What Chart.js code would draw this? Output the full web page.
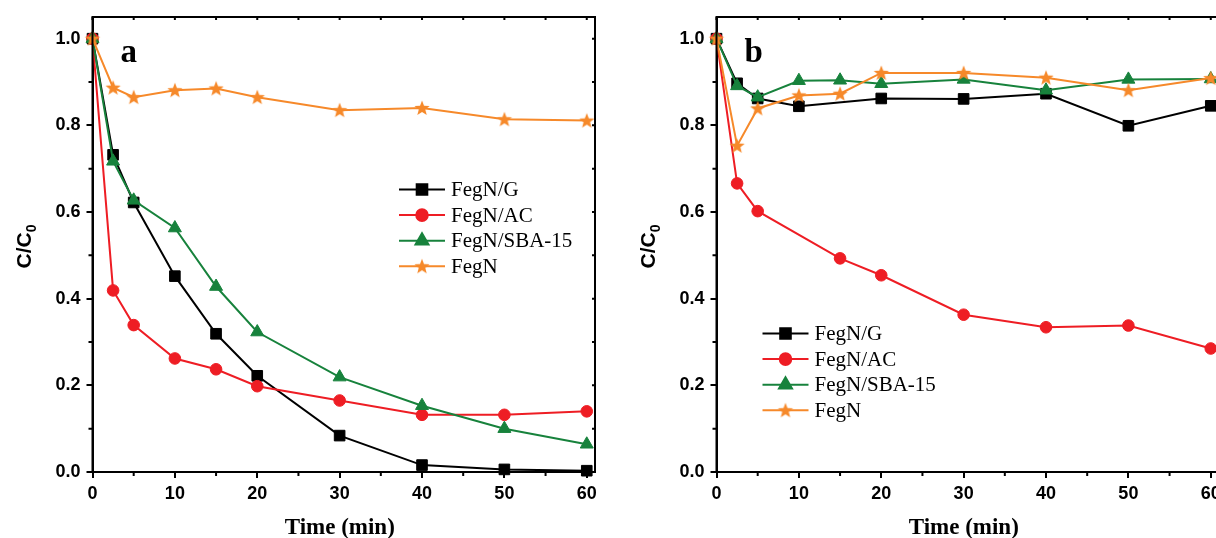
<!DOCTYPE html>
<html>
<head>
<meta charset="utf-8">
<script src="https://cdn.jsdelivr.net/npm/chart.js@4.4.1/dist/chart.umd.min.js"></script>
<style>
  html, body { margin: 0; padding: 0; background: #fff; width: 1216px; height: 538px; overflow: hidden; }
  .panel { position: absolute; top: 0; width: 624px; height: 538px; }
  #panelA { left: 0; }
  #panelB { left: 624px; }
</style>
</head>
<body>
<div class="panel" id="panelA"><canvas id="chartA" width="624" height="538"></canvas></div>
<div class="panel" id="panelB"><canvas id="chartB" width="624" height="538"></canvas></div>
<script>
// sampling times (min)
const times = [0, 2.5, 5, 10, 15, 20, 30, 40, 50, 60];
const seriesNames = ['FegN/G', 'FegN/AC', 'FegN/SBA-15', 'FegN'];
const timeTicks = [0, 10, 20, 30, 40, 50, 60];
const ratioTicks = [0, 0.2, 0.4, 0.6, 0.8, 1.0];

// panel a: C/C0
const aFegNG   = [1.0, 0.732, 0.622, 0.452, 0.319, 0.222, 0.084, 0.016, 0.006, 0.003];
const aFegNAC  = [1.0, 0.419, 0.339, 0.262, 0.237, 0.198, 0.165, 0.132, 0.132, 0.140];
const aFegNSBA = [1.0, 0.717, 0.627, 0.563, 0.428, 0.323, 0.219, 0.153, 0.100, 0.064];
const aFegN    = [1.0, 0.887, 0.865, 0.881, 0.885, 0.865, 0.835, 0.840, 0.814, 0.811];

// panel b: C/C0 (null = not measured)
const bFegNG   = [1.0, 0.897, 0.862, 0.844, null, 0.862, 0.861, 0.873, 0.799, 0.845];
const bFegNAC  = [1.0, 0.666, 0.602, null, 0.493, 0.454, 0.363, 0.334, 0.338, 0.285];
const bFegNSBA = [1.0, 0.891, 0.865, 0.903, 0.904, 0.896, 0.906, 0.881, 0.906, 0.907];
const bFegN    = [1.0, 0.753, 0.839, 0.869, 0.873, 0.921, 0.921, 0.910, 0.881, 0.909];

const colors = ['#000000', '#ee1d24', '#17823c', '#f6892a'];

function starImage(color, outer, inner) {
  const c = document.createElement('canvas');
  const s = Math.ceil(outer * 2 + 2);
  c.width = c.height = s;
  const g = c.getContext('2d');
  g.translate(s / 2, s / 2 + 0.5);
  g.beginPath();
  for (let i = 0; i < 10; i++) {
    const r = i % 2 ? inner : outer;
    const ang = -Math.PI / 2 + i * Math.PI / 5;
    g.lineTo(r * Math.cos(ang), r * Math.sin(ang));
  }
  g.closePath();
  g.fillStyle = color;
  g.fill();
  return c;
}

const markers = [
  { pointStyle: 'rect', radius: 7.5 },
  { pointStyle: 'circle', radius: 5.8 },
  { pointStyle: 'triangle', radius: 7.5 },
  { pointStyle: starImage(colors[3], 8, 3.4), radius: 8 }
];

Chart.defaults.font.family = '"Liberation Sans", Arial, sans-serif';
Chart.defaults.color = '#000';

// frame, minor ticks, titles, panel letter and legend
const decor = {
  id: 'decor',
  afterDraw(chart, args, opts) {
    const { ctx, chartArea: a, scales: { x, y } } = chart;
    ctx.save();
    ctx.strokeStyle = '#000';
    ctx.lineWidth = 2;
    ctx.strokeRect(a.left, a.top, a.right - a.left, a.bottom - a.top);

    ctx.beginPath();
    for (let t = 5; t < 61; t += 10) {
      const px = x.getPixelForValue(t);
      ctx.moveTo(px, a.bottom); ctx.lineTo(px, a.bottom + 4);
    }
    for (let t = 0; t <= 60; t += 5) {
      const px = x.getPixelForValue(t);
      ctx.moveTo(px, a.top); ctx.lineTo(px, a.top + 3);
    }
    for (let v = 0.1; v < 1.05; v += 0.2) {
      const py = y.getPixelForValue(v);
      ctx.moveTo(a.left, py); ctx.lineTo(a.left - 4, py);
    }
    for (let v = 0; v <= 1.0001; v += 0.1) {
      const py = y.getPixelForValue(v);
      ctx.moveTo(a.right, py); ctx.lineTo(a.right - 3, py);
    }
    ctx.stroke();

    // panel letter
    ctx.fillStyle = '#000';
    ctx.font = 'bold 33px "Liberation Serif", serif';
    ctx.textAlign = 'left';
    ctx.textBaseline = 'alphabetic';
    ctx.fillText(opts.letter, a.left + 28, 62);

    // x title
    ctx.font = 'bold 23px "Liberation Serif", serif';
    ctx.textAlign = 'center';
    ctx.fillText('Time (min)', (a.left + a.right) / 2 - 4, 534);

    // y title C/C0 with subscript
    ctx.save();
    ctx.translate(a.left - 62, (a.top + a.bottom) / 2 + 2);
    ctx.rotate(-Math.PI / 2);
    ctx.font = 'bold 21px "Liberation Sans", Arial, sans-serif';
    const main = 'C/C';
    const mw = ctx.measureText(main).width;
    ctx.font = 'bold 14px "Liberation Sans", Arial, sans-serif';
    const sw = ctx.measureText('0').width;
    const x0 = -(mw + sw) / 2;
    ctx.textAlign = 'left';
    ctx.font = 'bold 21px "Liberation Sans", Arial, sans-serif';
    ctx.fillText(main, x0, 0);
    ctx.font = 'bold 14px "Liberation Sans", Arial, sans-serif';
    ctx.fillText('0', x0 + mw, 5);
    ctx.restore();

    // legend
    const lx = a.left + opts.legendX;
    let ly = a.top + opts.legendY;
    ctx.font = '21px "Liberation Serif", serif';
    ctx.textAlign = 'left';
    ctx.textBaseline = 'middle';
    chart.data.datasets.forEach((ds, i) => {
      ctx.strokeStyle = ds.borderColor;
      ctx.lineWidth = 2;
      ctx.beginPath();
      ctx.moveTo(lx, ly); ctx.lineTo(lx + 46, ly);
      ctx.stroke();
      ctx.fillStyle = ds.backgroundColor;
      ctx.strokeStyle = ds.borderColor;
      Chart.helpers.drawPoint(ctx, {
        pointStyle: ds.pointStyle, radius: ds.pointRadius, rotation: 0, borderWidth: 1
      }, lx + 23, ly);
      ctx.fillStyle = '#000';
      ctx.fillText(ds.label, lx + 52, ly + 1);
      ly += 25.6;
    });
    ctx.restore();
  }
};

function makePanel(id, letter, series, legendX, legendY) {
  const datasets = series.map((vals, i) => ({
    label: seriesNames[i],
    data: times.map((t, k) => ({ x: t, y: vals[k] })),
    borderColor: colors[i],
    backgroundColor: colors[i],
    borderWidth: 2,
    pointStyle: markers[i].pointStyle,
    pointRadius: markers[i].radius,
    pointBorderWidth: 1,
    spanGaps: true,
    clip: false,
    order: 3 - i
  }));

  new Chart(document.getElementById(id), {
    type: 'line',
    data: { datasets },
    options: {
      responsive: false,
      animation: false,
      layout: { padding: { left: 0, top: 17, right: 29, bottom: 0 } },
      plugins: {
        legend: { display: false },
        tooltip: { enabled: false },
        decor: { letter, legendX, legendY }
      },
      scales: {
        x: {
          type: 'linear', min: 0, max: 61,
          afterBuildTicks: s => { s.ticks = timeTicks.map(v => ({ value: v })); },
          afterFit: s => { s.height = 66; },
          grid: { drawOnChartArea: false, tickLength: 6, color: '#000', lineWidth: 2 },
          border: { display: true, color: '#000', width: 2 },
          ticks: { padding: 5, font: { size: 18, weight: 'bold' }, callback: v => String(v) }
        },
        y: {
          type: 'linear', min: 0, max: 1.05,
          afterBuildTicks: s => { s.ticks = ratioTicks.map(v => ({ value: v })); },
          afterFit: s => { s.width = 92.5; },
          grid: { drawOnChartArea: false, tickLength: 6, color: '#000', lineWidth: 2 },
          border: { display: true, color: '#000', width: 2 },
          ticks: { padding: 6, font: { size: 18, weight: 'bold' }, callback: v => v.toFixed(1) }
        }
      }
    },
    plugins: [decor]
  });
}

makePanel('chartA', 'a', [aFegNG, aFegNAC, aFegNSBA, aFegN], 306.5, 172.5);
makePanel('chartB', 'b', [bFegNG, bFegNAC, bFegNSBA, bFegN], 46, 316.5);
</script>
</body>
</html>
